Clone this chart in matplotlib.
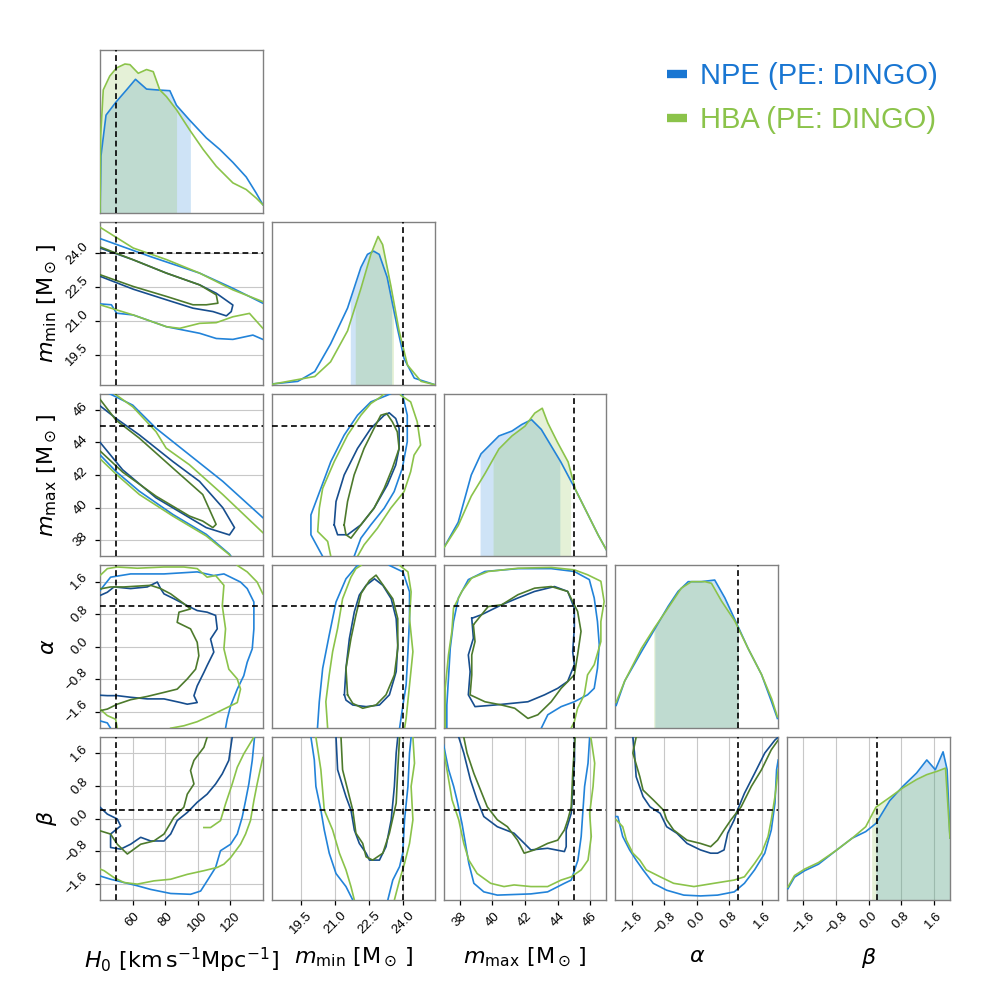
import numpy as np
import matplotlib
matplotlib.use("Agg")
import matplotlib.pyplot as plt
from matplotlib.lines import Line2D

plt.rcParams['font.family'] = ['Liberation Sans', 'DejaVu Sans']
plt.rcParams['mathtext.fontset'] = 'dejavusans'
plt.rcParams['axes.unicode_minus'] = True

# ---------------- parameters ----------------
AXIS_LABELS = [r'$H_0\ [\mathrm{km\,s^{-1}Mpc^{-1}}]$',
               r'$m_{\mathrm{min}}\ [\mathrm{M_\odot}\,]$',
               r'$m_{\mathrm{max}}\ [\mathrm{M_\odot}\,]$',
               r'$\alpha$', r'$\beta$']
RANGES = [(40, 140), (18.2, 25.4), (37, 47), (-2, 2), (-2, 2)]
TRUTHS = [50, 24.0, 45, 1.0, 0.2]
TICKS = [[60, 80, 100, 120], [19.5, 21.0, 22.5, 24.0], [38, 40, 42, 44, 46],
         [-1.6, -0.8, 0.0, 0.8, 1.6], [-1.6, -0.8, 0.0, 0.8, 1.6]]
TICK_LABELS = [['60', '80', '100', '120'], ['19.5', '21.0', '22.5', '24.0'],
               ['38', '40', '42', '44', '46'],
               ['\u22121.6', '\u22120.8', '0.0', '0.8', '1.6'],
               ['\u22121.6', '\u22120.8', '0.0', '0.8', '1.6']]
MODELS = ['NPE (PE: DINGO)', 'HBA (PE: DINGO)']

# ---------------- 1D marginals (relative density) ----------------
H0_X_NPE = [40, 40.6, 43.7, 49.8, 56.3, 61.8, 68.6, 74.7, 82.9, 87, 95, 105.3, 113.5, 121.6, 129.8, 136, 140]
H0_Y_NPE = [0.0, 0.35, 0.60, 0.68, 0.755, 0.82, 0.76, 0.755, 0.75, 0.66, 0.57, 0.46, 0.39, 0.31, 0.22, 0.12, 0.05]
H0_X_HBA = [40, 40.4, 42, 46, 50.2, 55.3, 58.4, 63.5, 68.6, 72.7, 76.7, 80.8, 87, 95, 103.3, 111.4, 121.6, 129.8, 136, 140]
H0_Y_HBA = [0.0, 0.47, 0.755, 0.84, 0.89, 0.914, 0.91, 0.857, 0.88, 0.867, 0.755, 0.714, 0.633, 0.51, 0.39, 0.286, 0.184, 0.143, 0.09, 0.05]

MMIN_X_NPE = [18.2, 19.35, 20.1, 20.8, 21.55, 22.14, 22.43, 22.7, 22.95, 23.3, 23.75, 24.05, 24.5, 25.4]
MMIN_Y_NPE = [0.004, 0.02, 0.08, 0.25, 0.47, 0.72, 0.80, 0.82, 0.80, 0.66, 0.35, 0.16, 0.04, 0.0]
MMIN_X_HBA = [18.2, 20.1, 20.8, 21.55, 22.14, 22.58, 22.9, 23.1, 23.46, 23.83, 24.2, 24.8, 25.4]
MMIN_Y_HBA = [0.002, 0.05, 0.14, 0.33, 0.59, 0.80, 0.91, 0.86, 0.61, 0.33, 0.12, 0.02, 0.0]

MMAX_X_NPE = [37.0, 37.9, 38.7, 39.3, 40.4, 41.2, 41.8, 42.4, 43.0, 43.6, 44.2, 45.1, 45.9, 46.5, 47.0]
MMAX_Y_NPE = [0.05, 0.21, 0.50, 0.63, 0.74, 0.77, 0.81, 0.84, 0.78, 0.68, 0.58, 0.41, 0.25, 0.13, 0.04]
MMAX_X_HBA = [37.0, 37.9, 38.7, 39.55, 40.4, 41.2, 42.0, 42.6, 43.06, 43.4, 44.0, 44.65, 45.1, 45.9, 46.5, 47.0]
MMAX_Y_HBA = [0.05, 0.19, 0.37, 0.51, 0.66, 0.74, 0.80, 0.88, 0.91, 0.82, 0.70, 0.58, 0.41, 0.25, 0.13, 0.04]

ALPHA_X_NPE = [-1.98, -1.77, -1.36, -1.03, -0.70, -0.46, -0.21, 0.11, 0.44, 0.69, 0.93, 1.26, 1.59, 1.84, 1.98]
ALPHA_Y_NPE = [0.14, 0.29, 0.47, 0.61, 0.75, 0.84, 0.90, 0.90, 0.91, 0.80, 0.67, 0.49, 0.33, 0.16, 0.06]
ALPHA_X_HBA = [-1.98, -1.77, -1.36, -1.03, -0.70, -0.38, -0.13, 0.20, 0.36, 0.61, 0.93, 1.26, 1.59, 1.84, 1.98]
ALPHA_Y_HBA = [0.16, 0.29, 0.49, 0.62, 0.74, 0.86, 0.90, 0.90, 0.89, 0.78, 0.66, 0.49, 0.33, 0.18, 0.07]

BETA_X_NPE = [-1.98, -1.82, -1.57, -1.23, -0.82, -0.40, -0.07, 0.18, 0.52, 0.85, 1.18, 1.43, 1.64, 1.83, 1.93, 2.0]
BETA_Y_NPE = [0.07, 0.14, 0.18, 0.22, 0.30, 0.38, 0.42, 0.47, 0.61, 0.70, 0.78, 0.86, 0.80, 0.91, 0.80, 0.38]
BETA_X_HBA = [-1.98, -1.82, -1.57, -1.23, -0.82, -0.40, -0.07, 0.18, 0.52, 0.85, 1.18, 1.43, 1.68, 1.89, 2.0]
BETA_Y_HBA = [0.08, 0.15, 0.19, 0.23, 0.30, 0.38, 0.45, 0.57, 0.63, 0.69, 0.74, 0.77, 0.79, 0.81, 0.38]

# credible intervals shaded under the 1D curves
H0_CI = [(40, 95.5), (40, 87)]
MMIN_CI = [(21.67, 23.5), (21.89, 23.58)]
MMAX_CI = [(39.24, 44.14), (40.04, 44.8)]
ALPHA_CI = [(-1.03, 1.02), (-1.06, 1.02)]
BETA_CI = [(0.18, 2.0), (0.075, 2.0)]

# ---------------- 2D contours (outer = 90%, inner = 50%) ----------------
# H0 - m_min
H0_MMIN_NPE_OUT = [[(40, 24.66), (70.6, 23.87), (101.2, 23.13), (121.6, 22.46), (140, 21.8)],
                   [(40, 21.77), (47, 21.73), (50.2, 21.36), (60.4, 21.28), (80.8, 20.76), (101.2, 20.47), (111.4, 20.24), (121.6, 20.2), (133.9, 20.39), (140, 20.2)]]
H0_MMIN_HBA_OUT = [[(40, 25.16), (60.4, 24.24), (80.8, 23.73), (101.2, 23.13), (121.6, 22.39), (140, 21.87)],
                   [(40, 21.73), (60.4, 21.28), (80.8, 20.76), (89, 20.69), (101.2, 20.91), (111.4, 20.94), (121.6, 21.2), (131.8, 21.35), (140, 20.69)]]
H0_MMIN_NPE_IN = [[(40, 24.24), (60.4, 23.72), (80.8, 23.13), (101.2, 22.61), (111.4, 22.24), (121.6, 21.72), (120.6, 21.43), (117.6, 21.24), (109.4, 21.43), (97.1, 21.58), (80.8, 21.95), (60.4, 22.42), (40, 22.99)]]
H0_MMIN_HBA_IN = [[(40, 24.29), (60.4, 23.72), (80.8, 23.13), (101.2, 22.61), (111.4, 22.17), (112.4, 21.8), (105.3, 21.73), (97.1, 21.73), (80.8, 22.1), (60.4, 22.54), (40, 23.06)]]

# H0 - m_max
H0_MMAX_NPE_OUT = [[(45.7, 47.0), (60.1, 46.29), (74.4, 44.87), (94.9, 43.24), (115.4, 41.61), (140, 39.38)],
                   [(40, 43.24), (49.8, 42.22), (64.2, 41.0), (84.7, 39.58), (105.2, 38.36), (119.5, 37.14), (120.5, 37.0)]]
H0_MMAX_HBA_OUT = [[(48.8, 47.0), (60.1, 46.19), (74.4, 44.66), (80.6, 43.65), (94.9, 42.63), (115.4, 40.8), (140, 38.46)],
                   [(40, 43.0), (49.8, 42.06), (64.2, 40.8), (84.7, 39.48), (105.2, 38.26), (119.5, 37.1), (120.0, 37.0)]]
H0_MMAX_NPE_IN = [[(40, 46.25), (49.8, 45.48), (64.2, 44.46), (84.7, 42.83), (101.1, 41.61), (115.4, 39.99), (122.6, 38.77), (119.5, 38.32), (105.2, 38.77), (94.9, 39.38), (74.4, 40.6), (53.9, 42.32), (40, 44.01)]]
H0_MMAX_HBA_IN = [[(40, 46.65), (49.8, 45.37), (64.2, 44.26), (84.7, 42.43), (103.1, 40.8), (111.3, 38.97), (109.3, 38.77), (103.1, 39.17), (94.9, 39.48), (74.4, 40.7), (53.9, 42.18), (40, 43.48)]]

# H0 - alpha
H0_ALPHA_NPE_OUT = [[(40, 1.38), (42.5, 1.51), (46.5, 1.71), (58.8, 1.79), (79.3, 1.79), (99.7, 1.84), (109.9, 1.75), (116.1, 1.79), (120.2, 1.71), (126.3, 1.59), (130.4, 1.43), (134.5, 1.10), (134.5, 0.44), (133.5, -0.05), (130.4, -0.38), (128.3, -0.71), (124.3, -1.04), (120.2, -1.45), (118.1, -1.78), (117.1, -2.0)],
                    [(40, -1.82), (44.5, -1.87), (46.5, -2.0)]]
H0_ALPHA_HBA_OUT = [[(40, 1.75), (44.5, 1.92), (50.6, 1.96), (62.9, 1.93), (79.3, 1.96), (91.5, 1.96), (99.7, 1.92), (105.8, 1.71), (111.0, 1.75), (116.1, 1.51), (115.1, 1.01), (117.1, 0.44), (116.1, -0.05), (119.1, -0.55), (124.3, -0.79), (126.3, -1.04), (124.3, -1.37), (116.1, -1.53), (107.9, -1.69), (99.7, -1.84), (91.5, -1.94), (83.4, -2.0)],
                    [(124.3, 2.0), (130.4, 1.84), (136.5, 1.59), (140, 1.3)],
                    [(40, -1.53), (44.5, -1.69), (49.6, -1.78), (50.6, -2.0)]]
H0_ALPHA_NPE_IN = [[(40, 1.26), (44.5, 1.34), (48.6, 1.47), (58.8, 1.43), (69.0, 1.47), (75.2, 1.59), (77.2, 1.43), (79.3, 1.30), (85.4, 1.18), (93.6, 1.01), (99.7, 0.89), (105.8, 0.85), (111.0, 0.77), (112.0, 0.44), (107.9, 0.19), (109.9, -0.13), (105.8, -0.46), (103.8, -0.63), (99.7, -0.96), (97.7, -1.20), (99.7, -1.37), (93.6, -1.41), (89.5, -1.37), (79.3, -1.28), (69.0, -1.28), (58.8, -1.24), (50.6, -1.20), (44.5, -1.20), (40, -1.19)]]
H0_ALPHA_HBA_IN = [[(40, 1.42), (46.5, 1.47), (54.7, 1.47), (62.9, 1.49), (71.1, 1.51), (77.2, 1.43), (83.4, 1.30), (91.5, 1.06), (95.6, 0.93), (88.5, 0.85), (87.4, 0.60), (95.6, 0.44), (99.7, 0.11), (100.7, -0.22), (98.7, -0.55), (93.6, -0.79), (87.4, -1.04), (79.3, -1.12), (69.0, -1.22), (58.8, -1.30), (50.6, -1.41), (44.5, -1.53), (40, -1.57)]]

# H0 - beta
H0_BETA_NPE_OUT = [[(40, -1.41), (46.5, -1.49), (54.7, -1.57), (62.9, -1.65), (71.1, -1.74), (83.4, -1.84), (95.6, -1.86), (101.8, -1.78), (105.8, -1.53), (111.0, -1.20), (114.0, -0.79), (120.2, -0.63), (124.3, -0.38), (127.3, 0.03), (129.4, 0.44), (131.4, 0.85), (133.5, 1.43), (134.9, 2.0)]]
H0_BETA_HBA_OUT = [[(40, -1.24), (42.5, -1.28), (48.6, -1.45), (54.7, -1.57), (62.9, -1.61), (73.1, -1.53), (83.4, -1.49), (93.6, -1.37), (103.8, -1.28), (112.0, -1.20), (116.1, -1.12), (120.2, -0.96), (126.3, -0.63), (129.4, -0.38), (132.4, -0.05), (134.5, 0.44), (136.5, 0.85), (139.6, 1.43), (140, 1.5)],
                   [(134.5, 2.0), (128.3, 1.59), (124.3, 1.26), (121.2, 0.85), (117.1, 0.36), (114.0, -0.05), (107.9, -0.22), (103.8, -0.22)]]
H0_BETA_NPE_IN = [[(40, 0.28), (44.5, 0.11), (50.6, -0.01), (52.7, -0.18), (46.5, -0.38), (46.5, -0.71), (52.7, -0.75), (58.8, -0.63), (65.0, -0.46), (71.1, -0.55), (79.3, -0.55), (83.4, -0.38), (87.4, -0.05), (93.6, 0.15), (99.7, 0.40), (105.8, 0.60), (111.0, 0.85), (115.1, 1.10), (119.1, 1.43), (121.2, 2.0)]]
H0_BETA_HBA_IN = [[(40, -0.30), (46.5, -0.38), (50.6, -0.63), (56.8, -0.87), (65.0, -0.63), (73.1, -0.55), (79.3, -0.38), (85.4, 0.03), (91.5, 0.28), (93.6, 0.60), (97.7, 0.85), (95.6, 1.18), (97.7, 1.43), (103.8, 1.75), (105.8, 2.0)]]

# m_min - m_max
MMIN_MMAX_NPE_OUT = [[(20.45, 37.0), (19.93, 38.33), (19.93, 39.55), (20.37, 41.18), (20.81, 42.82), (21.40, 44.45), (21.99, 45.67), (22.58, 46.49), (23.31, 46.9), (23.46, 47.0)],
                     [(23.97, 47.0), (24.19, 45.67), (24.19, 44.04), (23.97, 42.41), (23.61, 40.98), (23.17, 39.96), (22.58, 38.94), (22.14, 38.12), (21.84, 37.0)]]
MMIN_MMAX_HBA_OUT = [[(20.81, 37.0), (20.67, 37.92), (20.23, 38.53), (20.30, 39.96), (20.45, 41.18), (20.96, 42.82), (21.55, 44.45), (22.14, 45.67), (22.58, 46.39), (23.02, 46.8), (23.17, 47.0)],
                     [(23.90, 46.9), (24.34, 46.49), (24.63, 45.27), (24.78, 43.84), (24.49, 43.22), (24.34, 42.20), (24.05, 40.98), (23.46, 39.96), (22.87, 38.73), (22.28, 37.71), (21.99, 37.0)]]
MMIN_MMAX_NPE_IN = [[(20.96, 38.94), (21.04, 40.37), (21.40, 42.0), (21.99, 43.63), (22.58, 44.86), (23.17, 45.67), (23.39, 45.82), (23.68, 45.47), (23.83, 44.86), (23.83, 43.63), (23.68, 42.61), (23.31, 41.39), (22.72, 39.96), (22.14, 38.94), (21.55, 38.33), (21.11, 38.33), (20.96, 38.94)]]
MMIN_MMAX_HBA_IN = [[(21.40, 38.94), (21.55, 40.37), (21.84, 42.0), (22.28, 43.63), (22.72, 44.86), (23.02, 45.67), (23.28, 45.78), (23.53, 45.27), (23.75, 44.65), (23.83, 43.63), (23.53, 42.41), (23.17, 41.18), (22.72, 39.96), (22.14, 38.94), (21.70, 38.12), (21.48, 38.33), (21.40, 38.94)]]

# m_min - alpha
MMIN_ALPHA_NPE_OUT = [[(20.22, -2.0), (20.30, -1.35), (20.45, -0.53), (20.74, 0.29), (21.04, 1.10), (21.48, 1.67), (21.92, 1.96), (22.0, 2.0)],
                      [(23.40, 2.0), (24.0, 1.84), (24.29, 1.35), (24.29, 0.69), (24.22, -0.12), (24.14, -0.94), (24.0, -1.43), (23.85, -2.0)]]
MMIN_ALPHA_HBA_OUT = [[(20.67, -2.0), (20.59, -1.35), (20.74, -0.69), (20.89, -0.12), (21.11, 0.45), (21.33, 1.18), (21.70, 1.71), (21.92, 1.92), (22.15, 2.0)],
                      [(23.85, 2.0), (24.22, 1.84), (24.36, 1.35), (24.29, 0.69), (24.44, -0.12), (24.29, -0.94), (24.14, -1.76), (24.07, -2.0)]]
MMIN_ALPHA_NPE_IN = [[(21.41, -1.18), (21.48, -0.53), (21.63, 0.20), (21.85, 0.86), (22.07, 1.27), (22.37, 1.51), (22.74, 1.67), (23.11, 1.51), (23.48, 1.18), (23.70, 0.69), (23.77, 0.04), (23.70, -0.61), (23.40, -1.18), (22.96, -1.43), (22.37, -1.47), (21.78, -1.43), (21.48, -1.31), (21.41, -1.18)]]
MMIN_ALPHA_HBA_IN = [[(21.55, -1.18), (21.48, -0.53), (21.70, 0.20), (21.92, 0.78), (22.15, 1.31), (22.52, 1.63), (22.81, 1.76), (23.18, 1.47), (23.55, 1.18), (23.77, 0.69), (23.77, -0.04), (23.62, -0.69), (23.25, -1.18), (22.81, -1.43), (22.22, -1.51), (21.78, -1.39), (21.55, -1.18)]]

# m_min - beta
MMIN_BETA_NPE_OUT = [[(19.93, 2.0), (20.08, 1.44), (20.15, 0.79), (20.37, 0.21), (20.52, -0.28), (20.74, -0.85), (21.04, -1.35), (21.48, -1.67), (21.78, -2.0)],
                     [(23.33, -2.0), (23.55, -1.51), (23.85, -1.18), (23.99, -0.85), (24.07, -0.03), (24.22, 0.79), (24.29, 1.61), (24.36, 2.0)]]
MMIN_BETA_HBA_OUT = [[(20.15, 2.0), (20.37, 1.20), (20.52, 0.21), (20.89, -0.28), (21.19, -0.85), (21.48, -1.26), (21.70, -1.67), (21.85, -2.0)],
                     [(23.62, -2.0), (23.85, -1.51), (24.07, -1.10), (24.29, -0.61), (24.44, -0.03), (24.36, 0.79), (24.51, 1.36), (24.44, 2.0)]]
MMIN_BETA_NPE_IN = [[(21.04, 2.0), (21.11, 1.20), (21.48, 0.54), (21.70, 0.21), (21.85, -0.28), (22.07, -0.61), (22.37, -0.85), (22.52, -1.02), (22.96, -1.02), (23.25, -0.69), (23.48, -0.03), (23.62, 0.79), (23.70, 1.61), (23.77, 2.0)]]
MMIN_BETA_HBA_IN = [[(21.26, 2.0), (21.33, 1.20), (21.63, 0.54), (21.78, 0.21), (21.92, -0.36), (22.22, -0.61), (22.37, -0.94), (22.66, -1.02), (23.11, -0.85), (23.40, -0.36), (23.70, 0.38), (23.77, 1.20), (23.85, 2.0)]]

# m_max - alpha
MMAX_ALPHA_NPE_OUT = [[(37.2, -2.0), (37.2, -1.43), (37.3, -0.77), (37.41, -0.03), (37.61, 0.62), (37.91, 1.20), (38.52, 1.65), (39.54, 1.85), (41.57, 1.92), (43.61, 1.92), (45.03, 1.85), (45.95, 1.65), (46.25, 1.20), (46.45, 0.62), (46.56, 0.05), (46.45, -0.53), (46.25, -1.02), (45.84, -1.18), (45.03, -1.35), (44.22, -1.47), (43.40, -1.67), (43.0, -2.0)]]
MMAX_ALPHA_HBA_OUT = [[(37.1, -2.0), (37.1, -1.02), (37.3, -0.20), (37.51, 0.38), (37.61, 0.95), (38.12, 1.36), (38.73, 1.69), (39.74, 1.85), (41.57, 1.93), (43.61, 1.95), (45.03, 1.89), (45.84, 1.77), (46.66, 1.61), (46.86, 1.11), (46.66, 0.62), (46.66, 0.13), (46.25, -0.44), (45.84, -0.69), (45.64, -1.18), (45.23, -1.51), (45.03, -1.84), (44.83, -2.0)]]
MMAX_ALPHA_NPE_IN = [[(38.73, 0.70), (39.34, 0.79), (40.56, 1.03), (41.57, 1.20), (42.59, 1.36), (43.81, 1.48), (44.62, 1.36), (45.03, 0.95), (45.03, 0.46), (44.93, -0.12), (45.03, -0.44), (44.62, -0.85), (44.01, -1.02), (43.2, -1.18), (42.18, -1.35), (41.17, -1.39), (40.15, -1.43), (38.93, -1.47), (38.52, -1.18), (38.63, -0.61), (38.52, -0.20), (38.83, 0.21), (38.73, 0.70)]]
MMAX_ALPHA_HBA_IN = [[(38.83, 0.54), (39.74, 0.99), (40.56, 1.03), (41.57, 1.28), (42.59, 1.44), (43.61, 1.48), (44.62, 1.36), (45.23, 0.87), (45.44, 0.38), (45.23, -0.20), (45.03, -0.69), (44.22, -1.02), (43.61, -1.35), (42.79, -1.67), (42.18, -1.76), (41.37, -1.51), (40.56, -1.43), (39.54, -1.35), (38.63, -1.18), (38.73, -0.69), (38.73, -0.20), (38.93, 0.13), (38.83, 0.54)]]

# m_max - beta
MMAX_BETA_NPE_OUT = [[(37.0, 1.81), (37.31, 1.20), (37.62, 0.79), (37.82, 0.46), (38.13, -0.12), (38.55, -1.10), (38.86, -1.59), (39.47, -1.80), (40.30, -1.88), (42.36, -1.85), (43.39, -1.80), (44.42, -1.59), (44.84, -1.51), (45.25, -1.02), (45.45, -0.44), (45.56, 0.21), (45.66, 0.79), (45.87, 1.36), (45.97, 2.0)]]
MMAX_BETA_HBA_OUT = [[(37.0, 1.69), (37.52, 0.46), (37.93, -0.03), (38.24, -0.61), (38.55, -1.02), (39.06, -1.35), (39.89, -1.59), (40.71, -1.67), (41.33, -1.63), (42.36, -1.67), (43.39, -1.67), (44.22, -1.51), (44.84, -1.43), (45.45, -1.26), (45.87, -1.02), (46.07, -0.44), (45.97, 0.13), (46.18, 0.79), (46.28, 1.36), (46.07, 1.93), (46.03, 2.0)]]
MMAX_BETA_NPE_IN = [[(37.93, 2.0), (38.24, 1.61), (38.65, 0.95), (39.06, 0.46), (39.47, 0.05), (40.30, -0.20), (41.33, -0.36), (42.36, -0.77), (43.39, -0.73), (44.42, -0.81), (44.53, -0.69), (44.53, -0.28), (44.84, 0.13), (44.94, 0.79), (45.04, 1.44), (45.04, 2.0)]]
MMAX_BETA_HBA_IN = [[(38.24, 2.0), (38.44, 1.61), (38.86, 1.11), (39.27, 0.70), (39.68, 0.29), (40.30, -0.03), (40.92, -0.20), (41.54, -0.53), (41.95, -0.85), (42.57, -0.77), (43.39, -0.61), (44.01, -0.53), (44.42, -0.28), (44.63, -0.03), (44.84, 0.29), (44.94, 1.20), (45.08, 2.0)]]

# alpha - beta
ALPHA_BETA_NPE_OUT = [[(-2.0, 0.05), (-1.94, 0.05), (-1.82, -0.44), (-1.65, -0.77), (-1.49, -1.02), (-1.32, -1.26), (-1.07, -1.59), (-0.74, -1.76), (-0.32, -1.88), (0.09, -1.90), (0.51, -1.88), (0.92, -1.80), (1.17, -1.59), (1.42, -1.26), (1.67, -0.85), (1.83, -0.28), (1.92, 0.38), (1.96, 1.20), (2.0, 1.44)]]
ALPHA_BETA_HBA_OUT = [[(-1.98, -0.03), (-1.82, -0.20), (-1.73, -0.53), (-1.57, -0.85), (-1.40, -1.02), (-1.24, -1.26), (-0.90, -1.43), (-0.57, -1.59), (-0.07, -1.67), (0.42, -1.59), (0.92, -1.51), (1.17, -1.43), (1.42, -1.10), (1.59, -0.85), (1.75, -0.44), (1.83, -0.03), (1.92, 0.54), (2.0, 1.20)]]
ALPHA_BETA_NPE_IN = [[(-1.57, 2.0), (-1.53, 1.61), (-1.49, 1.03), (-1.32, 0.54), (-1.15, 0.29), (-0.90, 0.13), (-0.74, -0.20), (-0.49, -0.36), (-0.24, -0.61), (0.09, -0.77), (0.34, -0.85), (0.51, -0.85), (0.67, -0.77), (0.76, -0.36), (0.92, -0.03), (1.0, 0.21), (1.17, 0.62), (1.42, 1.11), (1.67, 1.61), (1.92, 1.93), (2.0, 2.0)]]
ALPHA_BETA_HBA_IN = [[(-1.49, 2.0), (-1.57, 1.61), (-1.40, 1.03), (-1.32, 0.70), (-1.07, 0.46), (-0.82, 0.21), (-0.74, -0.03), (-0.57, -0.28), (-0.24, -0.53), (0.09, -0.61), (0.34, -0.69), (0.51, -0.53), (0.67, -0.28), (0.84, -0.03), (1.09, 0.29), (1.34, 0.79), (1.59, 1.20), (1.83, 1.69), (2.0, 1.93)]]

# ---------------- styling ----------------
MAIN_COLORS = ['#2283d9', '#8bc34a']
LEGEND_COLORS = ['#1976d2', '#8bc34a']
INNER_COLORS = ['#174e8e', '#4d7a2c']
FILL_ALPHA = 0.22
SPINE_COLOR = '#808080'
GRID_COLOR = '#c8c8c8'

MARGINALS = [
    [(H0_X_NPE, H0_Y_NPE), (H0_X_HBA, H0_Y_HBA)],
    [(MMIN_X_NPE, MMIN_Y_NPE), (MMIN_X_HBA, MMIN_Y_HBA)],
    [(MMAX_X_NPE, MMAX_Y_NPE), (MMAX_X_HBA, MMAX_Y_HBA)],
    [(ALPHA_X_NPE, ALPHA_Y_NPE), (ALPHA_X_HBA, ALPHA_Y_HBA)],
    [(BETA_X_NPE, BETA_Y_NPE), (BETA_X_HBA, BETA_Y_HBA)],
]
INTERVALS = [H0_CI, MMIN_CI, MMAX_CI, ALPHA_CI, BETA_CI]

CONTOURS = {
    (1, 0): (H0_MMIN_NPE_OUT, H0_MMIN_HBA_OUT, H0_MMIN_NPE_IN, H0_MMIN_HBA_IN),
    (2, 0): (H0_MMAX_NPE_OUT, H0_MMAX_HBA_OUT, H0_MMAX_NPE_IN, H0_MMAX_HBA_IN),
    (3, 0): (H0_ALPHA_NPE_OUT, H0_ALPHA_HBA_OUT, H0_ALPHA_NPE_IN, H0_ALPHA_HBA_IN),
    (4, 0): (H0_BETA_NPE_OUT, H0_BETA_HBA_OUT, H0_BETA_NPE_IN, H0_BETA_HBA_IN),
    (2, 1): (MMIN_MMAX_NPE_OUT, MMIN_MMAX_HBA_OUT, MMIN_MMAX_NPE_IN, MMIN_MMAX_HBA_IN),
    (3, 1): (MMIN_ALPHA_NPE_OUT, MMIN_ALPHA_HBA_OUT, MMIN_ALPHA_NPE_IN, MMIN_ALPHA_HBA_IN),
    (4, 1): (MMIN_BETA_NPE_OUT, MMIN_BETA_HBA_OUT, MMIN_BETA_NPE_IN, MMIN_BETA_HBA_IN),
    (3, 2): (MMAX_ALPHA_NPE_OUT, MMAX_ALPHA_HBA_OUT, MMAX_ALPHA_NPE_IN, MMAX_ALPHA_HBA_IN),
    (4, 2): (MMAX_BETA_NPE_OUT, MMAX_BETA_HBA_OUT, MMAX_BETA_NPE_IN, MMAX_BETA_HBA_IN),
    (4, 3): (ALPHA_BETA_NPE_OUT, ALPHA_BETA_HBA_OUT, ALPHA_BETA_NPE_IN, ALPHA_BETA_HBA_IN),
}

n = 5
fig = plt.figure(figsize=(10, 10), dpi=100)
gs = fig.add_gridspec(n, n, left=0.1, right=0.95, top=0.95, bottom=0.1,
                      wspace=0.055, hspace=0.055)

truth_kw = dict(color='black', lw=1.2, ls=(0, (3.5, 2.2)), zorder=5)


def style_axes(ax, row, col):
    for sp in ax.spines.values():
        sp.set_color(SPINE_COLOR)
        sp.set_linewidth(1.0)
    ax.set_axisbelow(True)
    ax.tick_params(labelcolor='black', length=3.5, width=0.9, color='black',
                   labelsize=9.5)
    if row == n - 1:
        ax.set_xticks(TICKS[col])
        ax.set_xticklabels(TICK_LABELS[col], rotation=45, ha='center')
        ax.xaxis.grid(True, color=GRID_COLOR, lw=0.8)
        ax.set_xlabel(AXIS_LABELS[col], fontsize=16)
        ax.xaxis.set_label_coords(0.5, -0.28)
    else:
        ax.set_xticks([])
    if col == 0 and row > 0:
        ax.set_yticks(TICKS[row])
        ax.set_yticklabels(TICK_LABELS[row], rotation=45, va='center')
        ax.yaxis.grid(True, color=GRID_COLOR, lw=0.8)
        ax.set_ylabel(AXIS_LABELS[row], fontsize=16)
        ax.yaxis.set_label_coords(-0.25, 0.5)
    else:
        ax.set_yticks([])


for row in range(n):
    for col in range(n):
        if col > row:
            continue
        ax = fig.add_subplot(gs[row, col])
        ax.set_xlim(*RANGES[col])
        if row == col:
            ax.set_ylim(0, 1)
            for m in range(2):
                xs, ys = MARGINALS[row][m]
                lo, hi = INTERVALS[row][m]
                xf = np.linspace(lo, hi, 300)
                yf = np.interp(xf, xs, ys)
                ax.fill_between(xf, 0, yf, color=MAIN_COLORS[m], alpha=FILL_ALPHA, lw=0)
                ax.plot(xs, ys, color=MAIN_COLORS[m], lw=1.2, zorder=3)
            ax.axvline(TRUTHS[col], **truth_kw)
        else:
            ax.set_ylim(*RANGES[row])
            npe_out, hba_out, npe_in, hba_in = CONTOURS[(row, col)]
            for segs, colr in ((npe_out, MAIN_COLORS[0]), (hba_out, MAIN_COLORS[1]),
                               (npe_in, INNER_COLORS[0]), (hba_in, INNER_COLORS[1])):
                for seg in segs:
                    arr = np.array(seg)
                    ax.plot(arr[:, 0], arr[:, 1], color=colr, lw=1.2, zorder=3)
            ax.axvline(TRUTHS[col], **truth_kw)
            ax.axhline(TRUTHS[row], **truth_kw)
        style_axes(ax, row, col)

handles = [Line2D([0], [0], color=c, lw=6, solid_capstyle='butt') for c in LEGEND_COLORS]
leg = fig.legend(handles, MODELS, loc='upper right', bbox_to_anchor=(0.938, 0.938),
                 frameon=False, fontsize=21, handlelength=0.7, handletextpad=0.45,
                 labelspacing=0.55, borderpad=0, borderaxespad=0)
for t, c in zip(leg.get_texts(), LEGEND_COLORS):
    t.set_color(c)

fig.savefig('out.png', dpi=100)
